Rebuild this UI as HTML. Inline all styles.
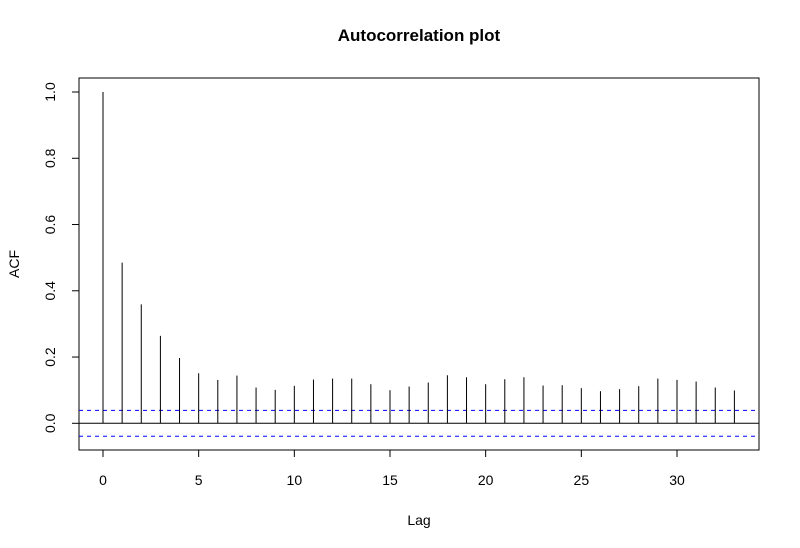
<!DOCTYPE html>
<html><head><meta charset="utf-8"><style>body{margin:0;background:#fff}svg{display:block;font-family:"Liberation Sans",Arial,sans-serif}</style></head>
<body>
<svg id="c" width="800" height="548"></svg>
<script>
const lags=[0,1,2,3,4,5,6,7,8,9,10,11,12,13,14,15,16,17,18,19,20,21,22,23,24,25,26,27,28,29,30,31,32,33];
const acf=[1,0.485,0.359,0.264,0.197,0.151,0.131,0.144,0.108,0.101,0.113,0.132,0.135,0.135,0.118,0.100,0.111,0.123,0.145,0.139,0.118,0.133,0.139,0.114,0.115,0.106,0.097,0.103,0.112,0.135,0.131,0.126,0.108,0.099];
const ci=0.039;
const xTicks=[0,5,10,15,20,25,30];
const yTicks=[0,0.2,0.4,0.6,0.8,1.0];
const yLabels=["0.0","0.2","0.4","0.6","0.8","1.0"];
const L=79,R=759,T=78,B=450;
const x=v=>103+v*19.133;
const y=v=>423.3-v*331.3;
const s=document.getElementById('c');const NS="http://www.w3.org/2000/svg";
function mk(t,a,txt){const e=document.createElementNS(NS,t);for(const k in a)e.setAttribute(k,a[k]);if(txt!==undefined)e.textContent=txt;s.appendChild(e);return e;}
let e;
e=mk('rect',{x:L,y:T,width:R-L,height:B-T,fill:'none',stroke:'#000','stroke-width':1});


e=mk('line',{x1:L,x2:R,y1:y(0),y2:y(0),stroke:'#000','stroke-width':1});


[ci,-ci].forEach((c,i)=>{e=mk('line',{x1:L,x2:R,y1:y(c),y2:y(c),stroke:'#0000ff','stroke-width':1,'stroke-dasharray':'4,4'});

});
lags.forEach((l,i)=>{e=mk('line',{x1:x(l),x2:x(l),y1:y(0),y2:y(acf[i]),stroke:'#000','stroke-width':1});

});
xTicks.forEach(t=>{e=mk('line',{x1:x(t),x2:x(t),y1:B,y2:B+7,stroke:'#000'});


e=mk('text',{x:x(t),y:485,'text-anchor':'middle','font-size':14},t);

});
yTicks.forEach((t,i)=>{e=mk('line',{x1:L-7,x2:L,y1:y(t),y2:y(t),stroke:'#000'});


e=mk('text',{x:0,y:0,'text-anchor':'middle','font-size':14,transform:`translate(55,${y(t)}) rotate(-90)`},yLabels[i]);

});
e=mk('text',{x:419,y:41,'text-anchor':'middle','font-size':17,'font-weight':'bold'},'Autocorrelation plot');


e=mk('text',{x:419,y:525,'text-anchor':'middle','font-size':14},'Lag');


e=mk('text',{x:0,y:0,'text-anchor':'middle','font-size':14,transform:'translate(19,264) rotate(-90)'},'ACF');


</script>
</body></html>
